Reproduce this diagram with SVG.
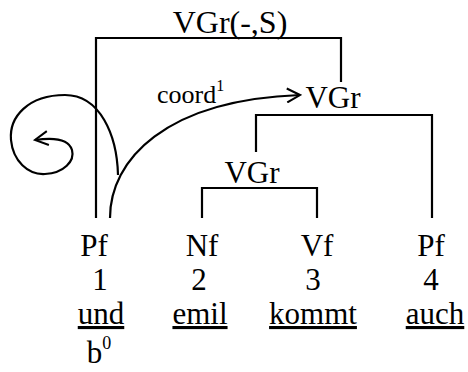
<svg xmlns="http://www.w3.org/2000/svg" width="468" height="372" viewBox="0 0 468 372">
<style>
text{font-family:"Liberation Serif","Times New Roman",serif;fill:#000;text-anchor:middle}
.lab{font-size:31px}
.w{font-size:31px}
.u{text-decoration:underline}
.sup{font-size:16px}
.ln{stroke:#000;stroke-width:2.2;fill:none}
</style>
<defs>
<marker id="ah" markerWidth="16" markerHeight="16" refX="14" refY="8" orient="auto" markerUnits="userSpaceOnUse">
<path d="M1,1 L14,8 L1,15" fill="none" stroke="#000" stroke-width="2"/>
</marker>
</defs>
<g id="connectors">
<path class="ln" d="M96,218 V38 H341 V82"/>
<path class="ln" d="M256,152 V115 H432 V218"/>
<path class="ln" d="M202,218 V188 H317 V218"/>
<path class="ln" d="M110,218 C110,160 165,100 300,95" marker-end="url(#ah)"/>
<path class="ln" d="M118,175 C117,135 100,95 65,95 C28,95 9,117 11,140 C13,161 28,175 45,174 C64,173 75,161 72,150 C69,140 55,137 35,140" marker-end="url(#ah)"/>
</g>
<g id="n-top"><text style="font-size:32px" x="230" y="33">VGr(-,S)</text></g>
<g id="n-vgr1"><text class="lab" x="333" y="108">VGr</text></g>
<g id="n-vgr2"><text class="lab" x="252" y="183">VGr</text></g>
<g id="n-coord"><text style="font-size:26px;text-anchor:start" x="157" y="103">coord<tspan class="sup" dy="-12">1</tspan></text></g>
<g id="n1">
<text class="w" x="94" y="256">Pf</text>
<text class="w" x="100" y="290">1</text>
<text class="w u" x="101" y="324">und</text>
<text class="w" x="99" y="363">b<tspan class="sup" dy="-14" style="font-size:18px">0</tspan></text>
</g>
<g id="n2">
<text class="w" x="202" y="256">Nf</text>
<text class="w" x="199" y="290">2</text>
<text class="w u" x="200" y="324">emil</text>
</g>
<g id="n3">
<text class="w" x="317" y="256">Vf</text>
<text class="w" x="313" y="290">3</text>
<text class="w u" x="313" y="324">kommt</text>
</g>
<g id="n4">
<text class="w" x="431" y="256">Pf</text>
<text class="w" x="431" y="290">4</text>
<text class="w u" x="435" y="324">auch</text>
</g>
</svg>
